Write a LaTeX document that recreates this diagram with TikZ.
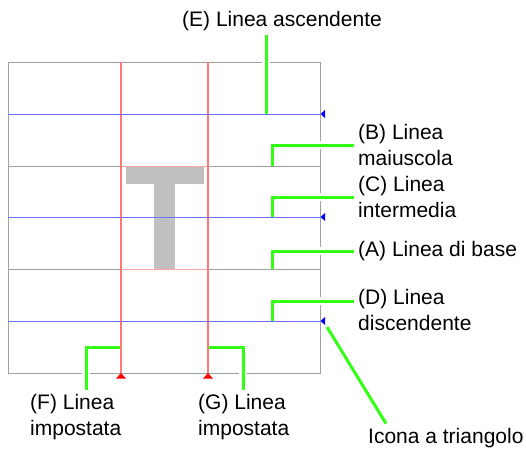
\documentclass[tikz,border=0pt]{standalone}
\usepackage{fontspec}
\setmainfont{Liberation Sans}
\usetikzlibrary{arrows.meta}

\definecolor{callgreen}{RGB}{51,255,20}
\definecolor{rulegray}{RGB}{160,160,160}
\definecolor{guideblue}{RGB}{110,110,255}
\definecolor{setred}{RGB}{255,120,120}
\definecolor{boxpink}{RGB}{255,165,165}
\definecolor{glyphgray}{RGB}{192,192,192}

\begin{document}
\begin{tikzpicture}[x=1pt,y=-1pt,
  gridline/.style={draw=rulegray,line width=1pt},
  guideline/.style={draw=guideblue,line width=0.8pt},
  setline/.style={draw=setred,line width=1.4pt},
  callout/.style={draw=callgreen,line width=3pt,
    preaction={draw=white,line width=8pt,shorten <=3pt,shorten >=3pt}},
  calltext/.style={font=\fontsize{21}{26}\selectfont,inner sep=4pt,align=left}]
\useasboundingbox (0,0) rectangle (526,466);

% letter T
\fill[glyphgray] (125.7,166) rectangle (204,184);
\fill[glyphgray] (154.3,184) rectangle (174.7,269);

% grid
\foreach \y in {166,269}
  \draw[gridline] (8,\y) -- (320,\y);
\draw[gridline] (8,62) rectangle (320,373);
\draw[setline,draw=boxpink,line width=1pt] (121,166) -- (208,166) (121,269) -- (208,269);
\draw[setline] (121,62) -- (121,373) (208,62) -- (208,373);
\foreach \y in {114,217,321}{
  \draw[guideline] (8,\y) -- (320,\y);
  \fill[blue] (320.5,\y) -- (325,\y-4) -- (325,\y+4) -- cycle;
}
\foreach \x in {121,208}
  \fill[red] (\x,373) -- (\x+5,378.5) -- (\x-5,378.5) -- cycle;

% callout points
\coordinate (pE) at (266,114);
\coordinate (pB) at (272,166);
\coordinate (pC) at (272,217);
\coordinate (pA) at (272,269);
\coordinate (pD) at (272,321);
\coordinate (pF) at (120,347);
\coordinate (pG) at (209,347);
\coordinate (tri) at (327,327);

% labels
\node[calltext,anchor=base west] (labE) at (178,26.7) {(E) Linea ascendente};
\node[calltext,anchor=west] (labB) at (354,145) {(B) Linea\\maiuscola};
\node[calltext,anchor=west] (labC) at (354,197) {(C) Linea\\intermedia};
\node[calltext,anchor=west] (labA) at (354,251) {(A) Linea di base};
\node[calltext,anchor=west] (labD) at (354,310) {(D) Linea\\discendente};
\node[calltext,anchor=base west] (labT) at (364,443) {Icona a triangolo};
\node[calltext,anchor=base west] (labF) at (26,435) {(F) Linea\\impostata};
\node[calltext,anchor=base west] (labG) at (194,435) {(G) Linea\\impostata};

% callouts
\draw[callout] (pE) -- (pE |- labE.south);
\draw[callout] (pB) |- (labB.west);
\draw[callout] (pC) |- (labC.west);
\draw[callout] (pA) |- (labA.west);
\draw[callout] (pD) |- ([yshift=9pt]labD.west);
\draw[callout] (tri) -- ([xshift=22pt]labT.north west);
\draw[callout] (pF) -| ([xshift=60pt]labF.north west);
\draw[callout] (pG) -| ([xshift=49pt]labG.north west);
\end{tikzpicture}
\end{document}
